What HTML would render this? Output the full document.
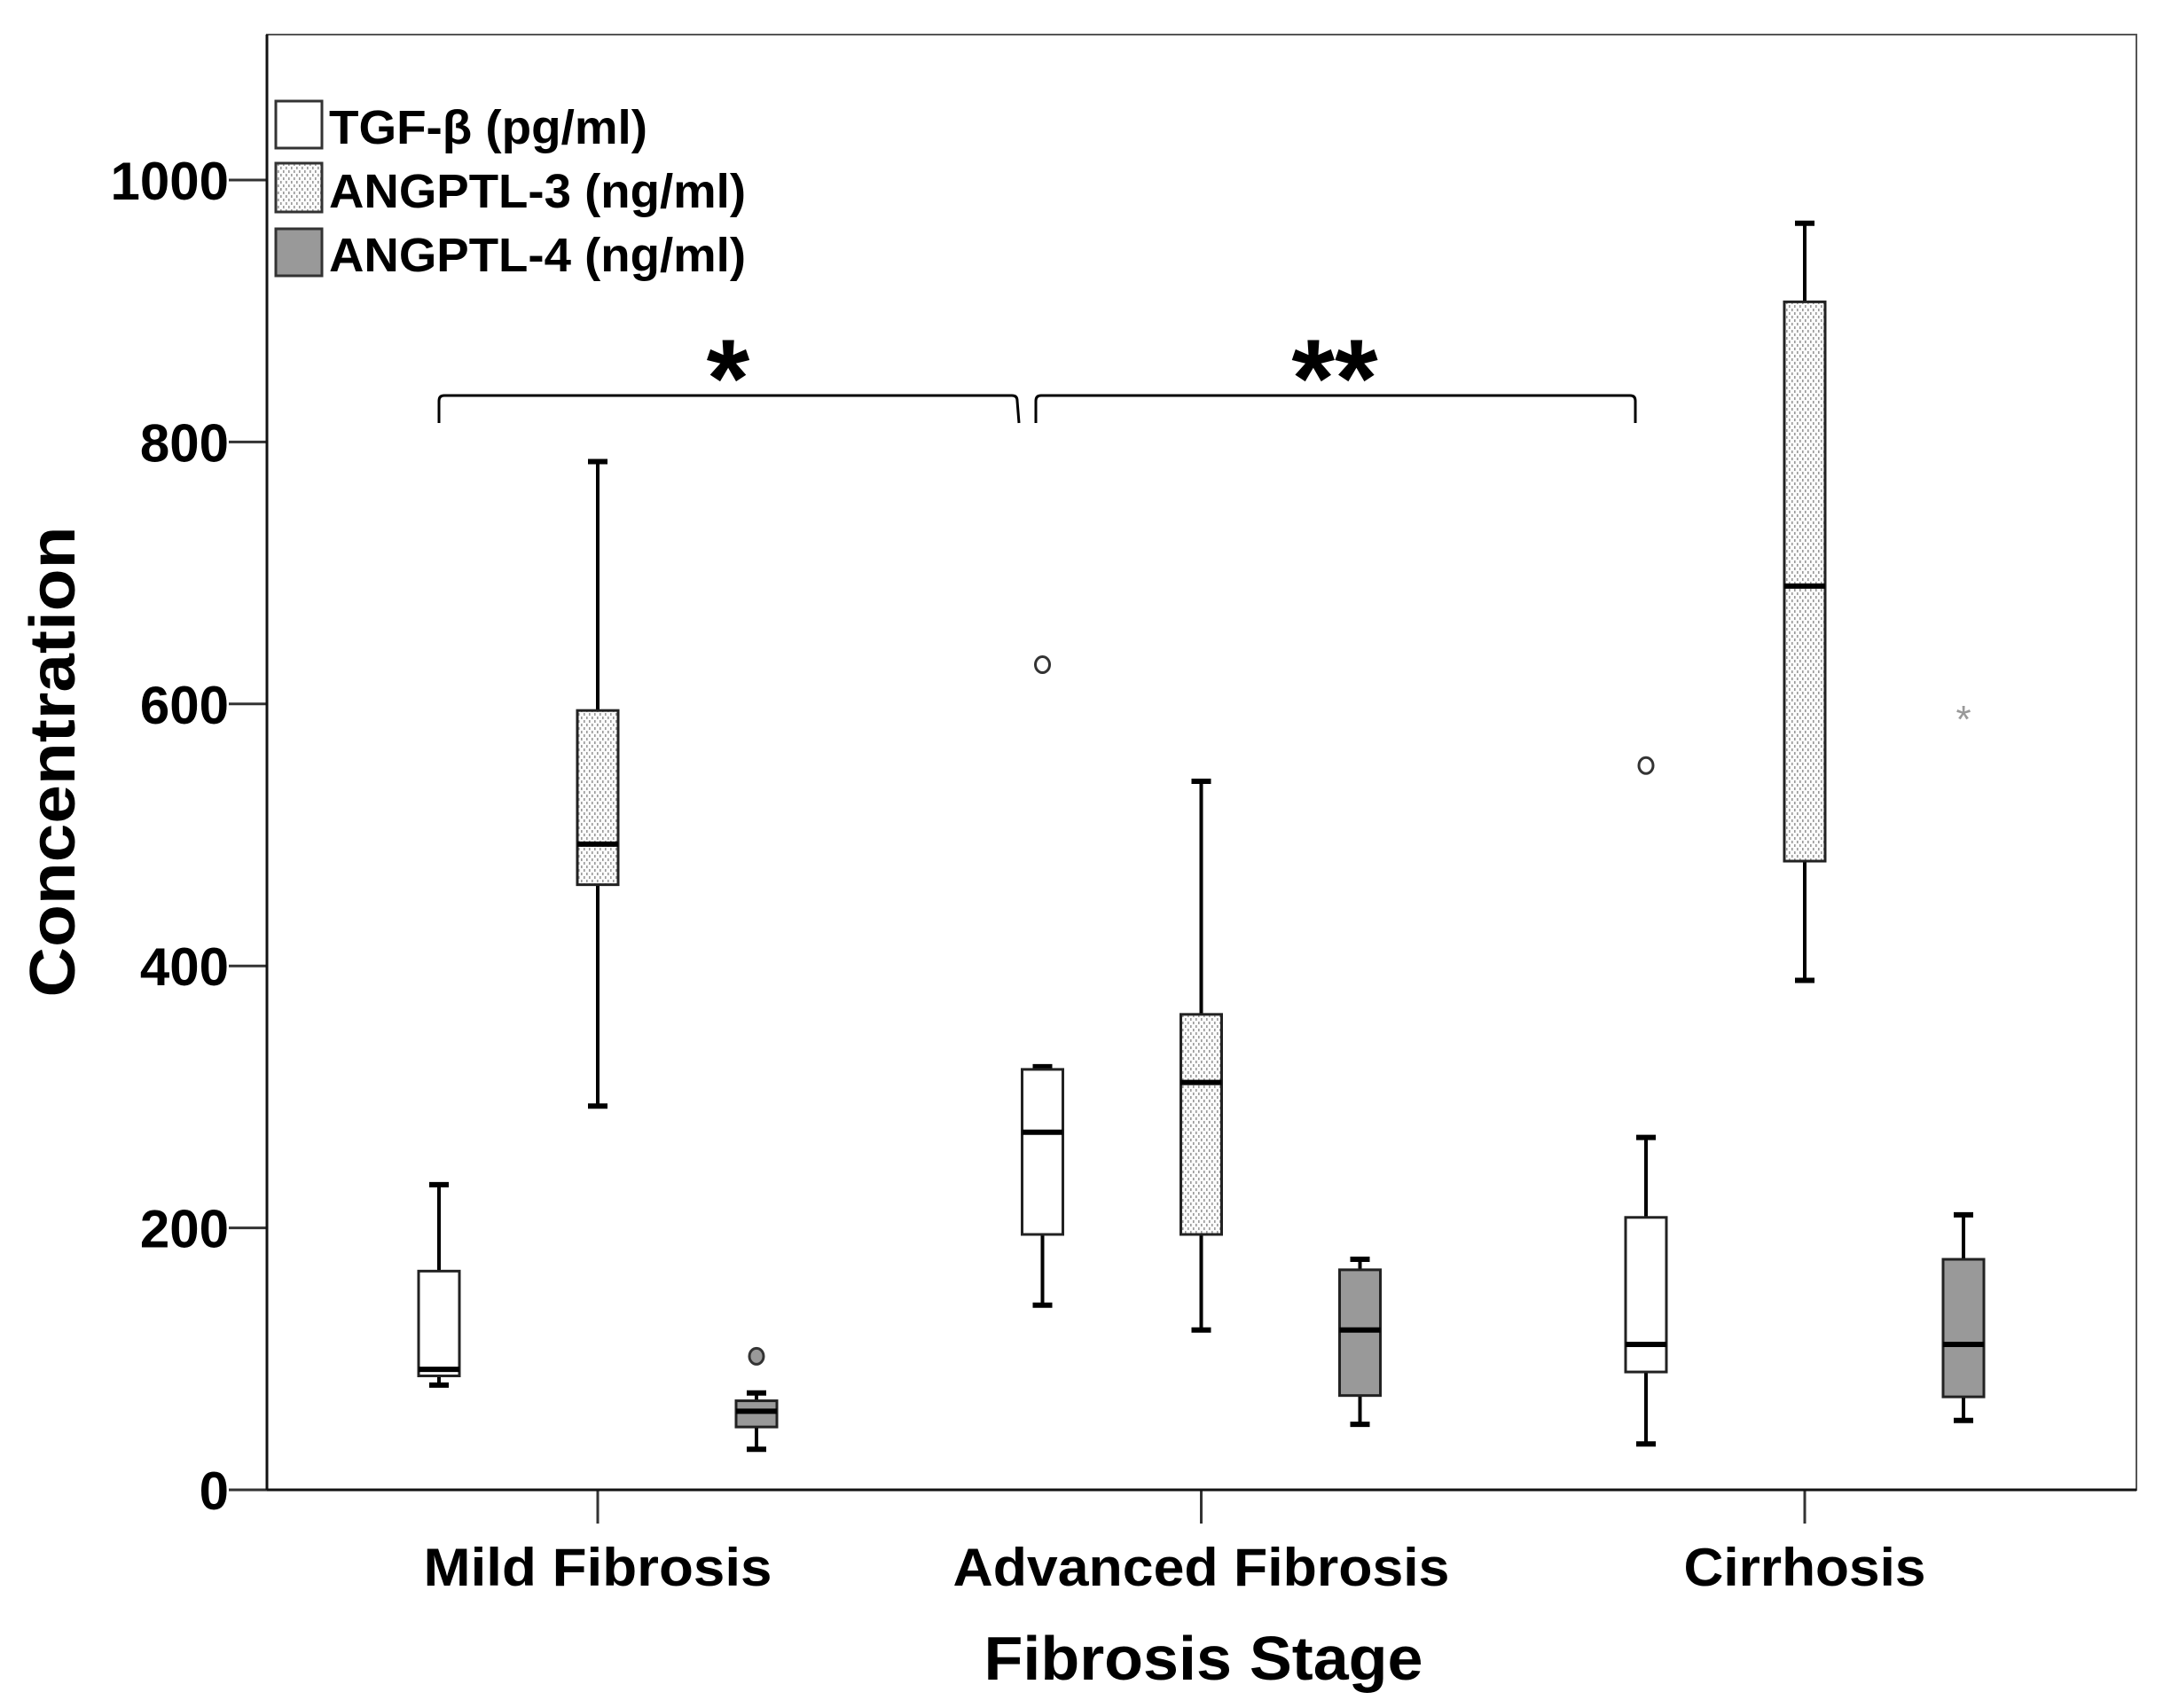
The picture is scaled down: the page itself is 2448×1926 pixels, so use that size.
<!DOCTYPE html>
<html><head><meta charset="utf-8"><style>
html,body{margin:0;padding:0;background:#fff;}
svg{display:block;font-family:"Liberation Sans",Arial,sans-serif;font-weight:bold;}
</style></head><body>
<svg id="chart" width="2448" height="1926" viewBox="0 0 2448 1926" xmlns="http://www.w3.org/2000/svg">
<defs>
<pattern id="dots" width="6" height="8" patternUnits="userSpaceOnUse">
<rect width="6" height="8" fill="#fbfbfb"/>
<rect x="1" y="0" width="1.6" height="3" fill="#999"/>
<rect x="4" y="4" width="1.6" height="3" fill="#999"/>
</pattern>
</defs>
<rect x="301" y="39" width="2108" height="1641" fill="#fff" stroke="#555" stroke-width="2"/>
<g id="yaxis"></g>
<g id="xaxis"></g>
<g id="boxes"></g>
<line x1="301" y1="1680" x2="2409" y2="1680" stroke="#111" stroke-width="3"/>
<line x1="301" y1="39" x2="301" y2="1680" stroke="#111" stroke-width="3"/>
<text transform="translate(84,859) rotate(-90)" text-anchor="middle" font-size="72" textLength="531" lengthAdjust="spacingAndGlyphs">Concentration</text>
<text x="1357" y="1894" text-anchor="middle" font-size="70" textLength="495" lengthAdjust="spacingAndGlyphs">Fibrosis Stage</text>
<g>
<rect x="311" y="114" width="52" height="53" fill="#fff" stroke="#333" stroke-width="3"/>
<text x="371" y="162" font-size="54" textLength="359" lengthAdjust="spacingAndGlyphs">TGF-β (pg/ml)</text>
<rect x="311" y="184" width="52" height="55" fill="url(#dots)" stroke="#333" stroke-width="3"/>
<text x="371" y="234" font-size="54" textLength="470" lengthAdjust="spacingAndGlyphs">ANGPTL-3 (ng/ml)</text>
<rect x="311" y="258" width="52" height="53" fill="#999" stroke="#333" stroke-width="3"/>
<text x="371" y="306" font-size="54" textLength="470" lengthAdjust="spacingAndGlyphs">ANGPTL-4 (ng/ml)</text>
</g>
<g>
<path d="M495,477 L495,452 Q495,446 501,446 L1141,446 Q1147,446 1147,452 L1149,477" fill="none" stroke="#000" stroke-width="3"/>
<text x="821" y="470" text-anchor="middle" font-size="125">*</text>
<path d="M1168,477 L1168,452 Q1168,446 1174,446 L1838,446 Q1844,446 1844,452 L1844,477" fill="none" stroke="#000" stroke-width="3"/>
<text x="1505" y="470" text-anchor="middle" font-size="125">**</text>
</g>
</svg>
<script>
const categories = ["Mild Fibrosis", "Advanced Fibrosis", "Cirrhosis"];
const seriesNames = ["TGF-β", "ANGPTL-3", "ANGPTL-4"];
const yTicks = [0, 200, 400, 600, 800, 1000];
const yTickLabels = ["0", "200", "400", "600", "800", "1000"];
// [low whisker, q1, median, q3, high whisker]
const tgfStats = [[80, 87, 92, 167, 233], [141, 195, 273, 321, 323], [35, 90, 111, 208, 269]];
const angptl3Stats = [[293, 462, 493, 595, 785], [122, 195, 311, 363, 541], [389, 480, 690, 907, 967]];
const angptl4Stats = [[31, 48, 60, 68, 74], [50, 72, 122, 168, 176], [53, 71, 111, 176, 210]];
// outliers: [category index, series index, value, kind]
const outliers = [[0, 2, 102, "circle"], [1, 0, 630, "circle"], [2, 0, 553, "circle"], [2, 2, 593, "star"]];

const NS = "http://www.w3.org/2000/svg";
const y0 = 1680, yPer = 1477 / 1000;
function yScale(v) { return y0 - v * yPer; }
const catX0 = 674, catStep = 680.5;
function xCat(i) { return catX0 + i * catStep; }
const seriesOffset = [-179, 0, 179];
function xSeries(c, s) { return xCat(c) + seriesOffset[s]; }
function mk(tag, attrs, parent) {
  const e = document.createElementNS(NS, tag);
  for (const k in attrs) e.setAttribute(k, attrs[k]);
  parent.appendChild(e);
  return e;
}
const yaxis = document.getElementById('yaxis');
yTicks.forEach((t, i) => {
  const y = yScale(t);
  const tk = mk('line', {x1: 258, x2: 301, y1: y, y2: y, stroke: '#333', 'stroke-width': 3}, yaxis);
  
  
  const lab = mk('text', {x: 258, y: y + 22, 'text-anchor': 'end', 'font-size': 60}, yaxis);
  
  
  lab.textContent = yTickLabels[i];
});
const xaxis = document.getElementById('xaxis');
const xLabelLen = [393, 560, 273];
categories.forEach((c, i) => {
  const x = xCat(i);
  const tk = mk('line', {x1: x, x2: x, y1: 1680, y2: 1718, stroke: '#333', 'stroke-width': 3}, xaxis);
  
  
  const lab = mk('text', {x: x, y: 1788, 'text-anchor': 'middle', 'font-size': 60, textLength: xLabelLen[i], lengthAdjust: 'spacingAndGlyphs'}, xaxis);
  
  
  lab.textContent = c;
});
const boxes = document.getElementById('boxes');
const fills = ['#fff', 'url(#dots)', '#999'];
const allStats = [tgfStats, angptl3Stats, angptl4Stats];
const bw = 46, cw = 22;
allStats.forEach((stats, s) => {
  stats.forEach((st, c) => {
    const x = xSeries(c, s);
    const g = mk('g', {}, boxes);
    
    
    mk('line', {x1: x, x2: x, y1: yScale(st[0]), y2: yScale(st[4]), stroke: '#000', 'stroke-width': 4}, g);
    mk('line', {x1: x - cw / 2, x2: x + cw / 2, y1: yScale(st[0]), y2: yScale(st[0]), stroke: '#000', 'stroke-width': 6}, g);
    mk('line', {x1: x - cw / 2, x2: x + cw / 2, y1: yScale(st[4]), y2: yScale(st[4]), stroke: '#000', 'stroke-width': 6}, g);
    mk('rect', {x: x - bw / 2, y: yScale(st[3]), width: bw, height: yScale(st[1]) - yScale(st[3]), fill: fills[s], stroke: '#222', 'stroke-width': 3}, g);
    mk('line', {x1: x - bw / 2, x2: x + bw / 2, y1: yScale(st[2]), y2: yScale(st[2]), stroke: '#000', 'stroke-width': 6}, g);
  });
});
outliers.forEach(o => {
  const x = xSeries(o[0], o[1]), y = yScale(o[2]);
  if (o[3] === 'circle') {
    const e = mk('ellipse', {cx: x, cy: y, rx: 8, ry: 9, fill: o[1] === 2 ? '#999' : '#fff', stroke: '#333', 'stroke-width': 3}, boxes);
    
    
  } else {
    const e = mk('text', {x: x, y: y + 22, 'text-anchor': 'middle', 'font-size': 44, fill: '#999', 'font-weight': 'normal'}, boxes);
    
    
    e.textContent = '*';
  }
});
</script>
</body></html>
